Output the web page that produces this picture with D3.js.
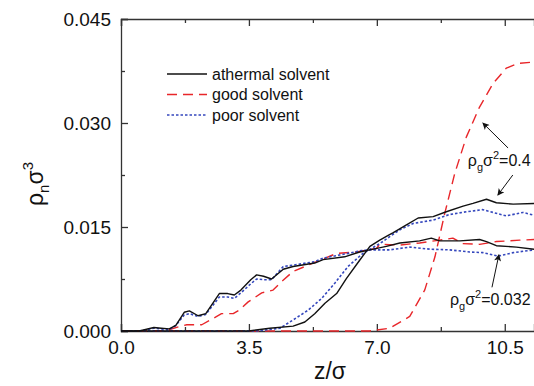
<!DOCTYPE html>
<html>
<head>
<meta charset="utf-8">
<script src="https://cdn.jsdelivr.net/npm/d3@7"></script>
<style>
  body { margin: 0; background: #fff; }
  svg { display: block; font-family: "Liberation Sans", Arial, sans-serif; }
  .axis path, .axis line { stroke: #333; stroke-width: 1.3; }
  .axis text { font-size: 19px; fill: #111; }
</style>
</head>
<body>
<div id="chart"></div>
<script>
// ρ_n σ^3 profiles
var zAthermalLow = [0, 0.5, 0.9, 1.1, 1.32, 1.5, 1.73, 1.87, 2.11, 2.32, 2.69, 2.92, 3.10, 3.28, 3.55, 3.71, 3.9, 4.12, 4.44, 4.71, 5.30, 5.53, 6.12, 6.53, 6.90, 7.26, 7.63, 8.17, 8.49, 8.72, 9.27, 9.81, 10.0, 10.27, 10.82, 11.3];
var rhoAthermalLow = [0, 0, 0.0005, 0.0004, 0.0003, 0.0008, 0.0027, 0.0029, 0.0022, 0.0025, 0.0054, 0.0054, 0.0052, 0.0059, 0.0074, 0.0081, 0.0079, 0.0075, 0.0089, 0.0093, 0.0098, 0.0103, 0.0107, 0.0114, 0.0118, 0.0122, 0.0127, 0.0130, 0.0134, 0.0130, 0.0130, 0.0132, 0.0129, 0.0123, 0.0121, 0.0118];

var zPoorLow = [0, 0.5, 0.9, 1.32, 1.5, 1.73, 1.87, 2.11, 2.32, 2.69, 2.92, 3.10, 3.28, 3.55, 3.71, 3.9, 4.12, 4.44, 4.71, 5.30, 5.53, 6.12, 6.58, 6.81, 7.35, 7.90, 8.45, 8.99, 9.54, 9.9, 10.32, 10.73, 11.3];
var rhoPoorLow = [0, 0, 0.0004, 0.0002, 0.0008, 0.0023, 0.0025, 0.0021, 0.0024, 0.0049, 0.0049, 0.0047, 0.0055, 0.0068, 0.0075, 0.0074, 0.0074, 0.0093, 0.0095, 0.0100, 0.0105, 0.0111, 0.0116, 0.0117, 0.0117, 0.0121, 0.0118, 0.0117, 0.0114, 0.0113, 0.0108, 0.0113, 0.0117];

var zGoodLow = [0, 1.2, 1.57, 1.80, 2.21, 2.62, 2.75, 3.07, 3.23, 3.48, 3.85, 4.16, 4.39, 4.71, 5.35, 5.90, 6.44, 6.99, 7.08, 7.63, 8.17, 8.72, 9.08, 9.35, 9.81, 10.27, 10.91, 11.3];
var rhoGoodLow = [0, 0, 0.0006, 0.0009, 0.0009, 0.0021, 0.0025, 0.0025, 0.0030, 0.0042, 0.0055, 0.0059, 0.0071, 0.0086, 0.0100, 0.0112, 0.0114, 0.0119, 0.0125, 0.0124, 0.0127, 0.0131, 0.0134, 0.0126, 0.0125, 0.0129, 0.0131, 0.0132];

var zAthermalHigh = [0, 3.5, 4.07, 4.71, 5.03, 5.30, 5.58, 5.90, 6.17, 6.53, 6.81, 7.08, 7.31, 7.45, 7.81, 8.13, 8.54, 8.90, 9.36, 9.63, 10.0, 10.27, 10.73, 11.3];
var rhoAthermalHigh = [0, 0, 0.0004, 0.0007, 0.0013, 0.0025, 0.0040, 0.0054, 0.0076, 0.0102, 0.0122, 0.0131, 0.0138, 0.0142, 0.0153, 0.0163, 0.0165, 0.0172, 0.0180, 0.0184, 0.0190, 0.0185, 0.0183, 0.0184];

var zPoorHigh = [0, 3.7, 4.35, 4.71, 5.12, 5.49, 5.85, 6.21, 6.62, 7.08, 7.35, 7.63, 7.99, 8.54, 8.99, 9.45, 9.90, 10.18, 10.54, 11.0, 11.3];
var rhoPoorHigh = [0, 0, 0.0004, 0.0016, 0.0030, 0.0047, 0.0069, 0.0093, 0.0112, 0.0126, 0.0136, 0.0146, 0.0155, 0.0160, 0.0168, 0.0172, 0.0175, 0.0171, 0.0166, 0.0171, 0.0167];

var zGoodHigh = [0, 6.8, 7.35, 7.90, 8.31, 8.59, 8.86, 9.13, 9.45, 9.81, 10.18, 10.54, 10.86, 11.3];
var rhoGoodHigh = [0, 0, 0.0004, 0.0021, 0.0059, 0.0107, 0.0170, 0.0227, 0.0280, 0.0323, 0.0357, 0.0379, 0.0386, 0.0388];

var xMajorTicks = [0, 3.5, 7.0, 10.5];
var xMinorTicks = [1.75, 5.25, 8.75];
var yMajorTicks = [0, 0.015, 0.030, 0.045];
var yMinorTicks = [0.0075, 0.0225, 0.0375];

var legendLabels = ["athermal solvent", "good solvent", "poor solvent"];

var W = 534, H = 386;
var margin = { left: 121, top: 19, right: 0, bottom: 55 };

var svg = d3.select("#chart").append("svg").attr("width", W).attr("height", H);

var x = d3.scaleLinear().domain([0, 11.3]).range([margin.left, W - margin.right]);
var y = d3.scaleLinear().domain([0, 0.045]).range([H - margin.bottom, margin.top]);

var styles = {
  athermal: { color: "#111", dash: null, width: 1.4 },
  good: { color: "#e8262a", dash: "10,6", width: 1.4 },
  poor: { color: "#3447bd", dash: "2.5,2", width: 1.6 }
};

svg.append("defs").append("clipPath").attr("id", "plot-clip")
  .append("rect")
  .attr("x", margin.left).attr("y", margin.top - 2)
  .attr("width", W - margin.left).attr("height", y(0) - margin.top + 4);

svg.append("defs").append("marker")
  .attr("id", "arrowhead")
  .attr("viewBox", "0 0 10 10")
  .attr("refX", 9).attr("refY", 5)
  .attr("markerWidth", 9).attr("markerHeight", 7)
  .attr("markerUnits", "userSpaceOnUse")
  .attr("orient", "auto")
  .append("path").attr("d", "M0,0 L10,5 L0,10 L2.5,5 z").attr("fill", "#111");

// axes: ticks point inward
function axisPair(gen, major, minor, transform, labels) {
  var gMaj = svg.append("g").attr("class", "axis").attr("transform", transform)
    .call(gen().tickValues(major).tickSize(-7).tickPadding(labels ? 10 : 0)
      .tickFormat(labels ? labels : function () { return ""; }));
  svg.append("g").attr("class", "axis").attr("transform", transform)
    .call(gen().tickValues(minor).tickSize(-4).tickFormat(function () { return ""; }))
    .select(".domain").remove();
  return gMaj;
}

var fmtX = d3.format(".1f"), fmtY = d3.format(".3f");
axisPair(function () { return d3.axisBottom(x); }, xMajorTicks, xMinorTicks,
  "translate(0," + y(0) + ")", fmtX);
axisPair(function () { return d3.axisTop(x); }, xMajorTicks, xMinorTicks,
  "translate(0," + y(0.045) + ")", null);
axisPair(function () { return d3.axisLeft(y); }, yMajorTicks, yMinorTicks,
  "translate(" + x(0) + ",0)", fmtY);

svg.selectAll(".axis path.domain").attr("stroke-width", 1.5);

// curves
var line = d3.line().x(function (d) { return x(d[0]); }).y(function (d) { return y(d[1]); });

var series = [
  { z: zGoodLow, rho: rhoGoodLow, s: styles.good },
  { z: zGoodHigh, rho: rhoGoodHigh, s: styles.good },
  { z: zPoorLow, rho: rhoPoorLow, s: styles.poor },
  { z: zPoorHigh, rho: rhoPoorHigh, s: styles.poor },
  { z: zAthermalLow, rho: rhoAthermalLow, s: styles.athermal },
  { z: zAthermalHigh, rho: rhoAthermalHigh, s: styles.athermal }
];

var plot = svg.append("g").attr("clip-path", "url(#plot-clip)");
plot.selectAll("path.curve")
  .data(series)
  .join("path")
  .attr("class", "curve")
  .attr("fill", "none")
  .attr("stroke", function (d) { return d.s.color; })
  .attr("stroke-width", function (d) { return d.s.width; })
  .attr("stroke-dasharray", function (d) { return d.s.dash; })
  .attr("stroke-linejoin", "round")
  .attr("d", function (d) { return line(d.z.map(function (v, i) { return [v, d.rho[i]]; })); });

// legend
var legendStyles = [styles.athermal, styles.good, styles.poor];
var legend = svg.append("g").attr("transform", "translate(167,74)");
var item = legend.selectAll("g").data(legendLabels).join("g")
  .attr("transform", function (d, i) { return "translate(0," + (i * 20.5) + ")"; });
item.append("line")
  .attr("x1", 0).attr("x2", 40).attr("y1", 0).attr("y2", 0)
  .attr("stroke", function (d, i) { return legendStyles[i].color; })
  .attr("stroke-width", function (d, i) { return legendStyles[i].width; })
  .attr("stroke-dasharray", function (d, i) { return legendStyles[i].dash; });
item.append("text")
  .attr("x", 45).attr("y", 5.5)
  .attr("font-size", 16).attr("fill", "#111")
  .text(function (d) { return d; });

// annotations (data coordinates)
var arrows = [
  { from: [10.59, 0.0264], to: [9.90, 0.0300] },
  { from: [10.72, 0.0225], to: [10.31, 0.0196] },
  { from: [10.15, 0.0063], to: [10.34, 0.0110] }
];
svg.selectAll("line.arrow").data(arrows).join("line")
  .attr("class", "arrow")
  .attr("x1", function (d) { return x(d.from[0]); })
  .attr("y1", function (d) { return y(d.from[1]); })
  .attr("x2", function (d) { return x(d.to[0]); })
  .attr("y2", function (d) { return y(d.to[1]); })
  .attr("stroke", "#111").attr("stroke-width", 1)
  .attr("marker-end", "url(#arrowhead)");

var notes = [
  { at: [9.49, 0.0238], value: "=0.4" },
  { at: [9.0, 0.0037], value: "=0.032" }
];
notes.forEach(function (n) {
  var t = svg.append("text")
    .attr("x", x(n.at[0])).attr("y", y(n.at[1]))
    .attr("font-size", 16).attr("fill", "#111");
  t.append("tspan").text("ρ");
  t.append("tspan").attr("font-size", 11).attr("dy", 5).text("g");
  t.append("tspan").attr("dy", -5).text("σ");
  t.append("tspan").attr("font-size", 11).attr("dy", -7).text("2");
  t.append("tspan").attr("dy", 7).text(n.value);
});

// axis titles
var yt = svg.append("text")
  .attr("transform", "translate(43,184) rotate(-90)")
  .attr("text-anchor", "middle")
  .attr("font-size", 23).attr("fill", "#111");
yt.append("tspan").text("ρ");
yt.append("tspan").attr("font-size", 15).attr("dy", 6).text("n");
yt.append("tspan").attr("dy", -6).text("σ");
yt.append("tspan").attr("font-size", 15).attr("dy", -10).text("3");

svg.append("text")
  .attr("x", 330).attr("y", 379)
  .attr("text-anchor", "middle")
  .attr("font-size", 23).attr("fill", "#111")
  .text("z/σ");
</script>
</body>
</html>
